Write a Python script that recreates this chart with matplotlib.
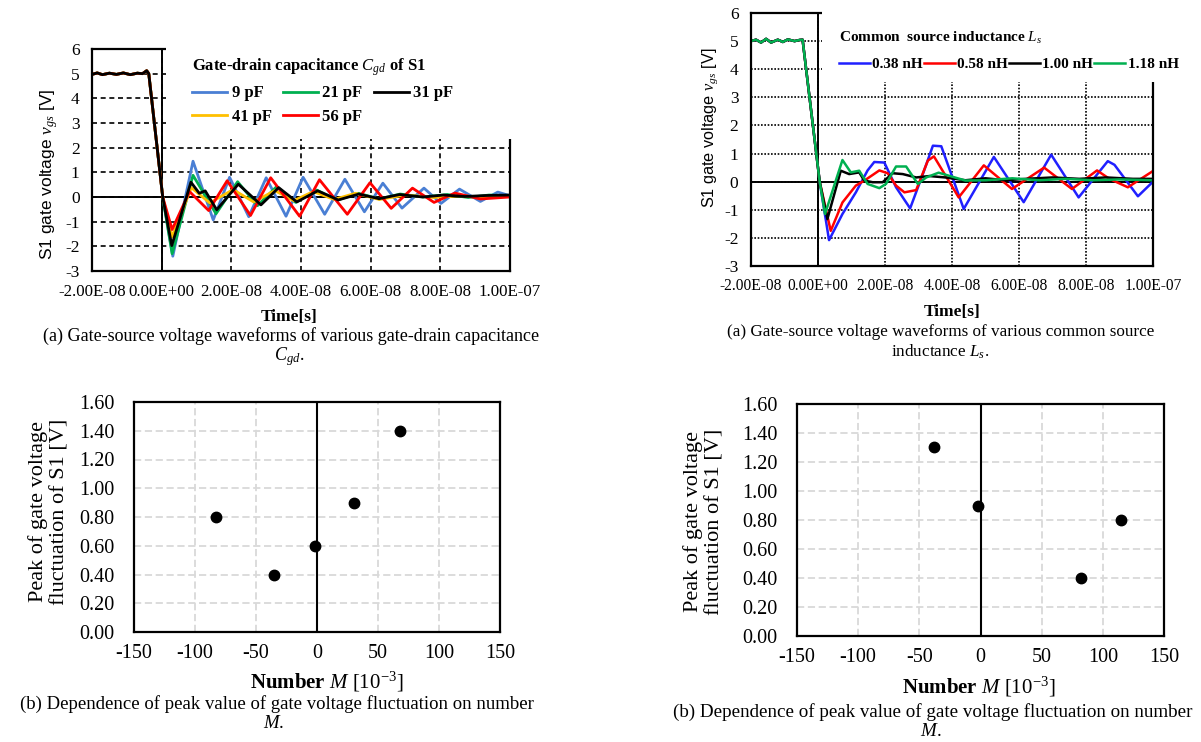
import matplotlib
matplotlib.use("Agg")
import matplotlib.pyplot as plt
from matplotlib.patches import Rectangle

plt.rcParams["font.family"] = ["Liberation Serif", "DejaVu Serif"]
plt.rcParams["mathtext.fontset"] = "custom"
plt.rcParams["mathtext.rm"] = "Liberation Serif"
plt.rcParams["mathtext.it"] = "Liberation Serif:italic"
plt.rcParams["mathtext.bf"] = "Liberation Serif:bold"
plt.rcParams["axes.unicode_minus"] = False

W, H = 1201, 742

# ---- (a) left: gate-drain capacitance, time in ns ----
PRE_T = [-20, -18.5, -17, -15, -13, -11, -9, -7, -5.5, -4.3, -3.7]
PRE_V1 = [4.97, 5.03, 4.96, 5.02, 4.97, 5.03, 4.96, 5.02, 5.0, 5.12, 5.0]

T_9 = [0.3, 3.2, 9.0, 14.8, 19.5, 25.0, 30.0, 35.7, 40.6, 46.8, 52.6, 58.2, 63.5, 69.0, 75.3, 80.2, 85.5, 91.5, 96.5, 100]
V_9 = [0.0, -2.4, 1.45, -0.93, 0.8, -0.8, 0.78, -0.78, 0.8, -0.7, 0.72, -0.6, 0.56, -0.45, 0.36, -0.26, 0.32, -0.18, 0.2, 0.05]
T_21 = [0.3, 3.0, 9.0, 15.6, 21.8, 27.5, 33.0, 38.5, 44.5, 50.5, 56.5, 62.5, 68.5, 75, 82, 88, 94, 100]
V_21 = [0.0, -2.3, 0.88, -0.68, 0.62, -0.35, 0.42, -0.22, 0.28, -0.12, 0.15, -0.08, 0.12, 0.0, 0.1, -0.02, 0.08, 0.05]
T_31 = [0.3, 2.9, 8.4, 10.8, 12.5, 15.8, 22.0, 28.5, 33.6, 38.8, 44.8, 50.7, 56.6, 62.4, 68.3, 75.0, 81, 87, 93, 100]
V_31 = [0.0, -1.97, 0.6, 0.15, 0.25, -0.52, 0.52, -0.32, 0.38, -0.2, 0.25, -0.12, 0.12, -0.07, 0.1, 0.0, 0.08, 0.02, 0.06, 0.08]
T_41 = [0.3, 3.0, 8.5, 13.8, 20.5, 26.4, 32.5, 37.9, 43.5, 49.5, 55.6, 62.5, 70, 78, 86, 93, 100]
V_41 = [0.0, -1.62, 0.38, -0.24, 0.3, -0.2, 0.26, -0.15, 0.22, -0.1, 0.15, -0.1, 0.08, -0.02, 0.05, -0.02, 0.03]
T_56 = [0.3, 3.0, 8.0, 13.5, 18.8, 25.5, 31.3, 39.6, 45.3, 53.3, 59.8, 65.9, 72.0, 78.2, 84.2, 91.5, 100]
V_56 = [0.0, -1.32, 0.22, -0.55, 0.66, -0.75, 0.78, -0.78, 0.7, -0.7, 0.58, -0.46, 0.36, -0.22, 0.16, -0.08, 0.0]

# ---- (a) right: common source inductance ----
PRE_T2 = [-20, -18.5, -17, -15.5, -14, -12, -10.5, -9, -7, -5.5, -4.6]
PRE_V2 = [5.0, 5.05, 4.95, 5.08, 4.95, 5.05, 4.97, 5.06, 5.0, 5.04, 5.05]

T_038 = [0.5, 3.3, 7.3, 11.3, 14.8, 16.8, 19.8, 23.3, 27.5, 31.3, 34.3, 36.8, 43.5, 52.5, 61.4, 69.6, 77.8, 86.5, 88.5, 95.5, 100]
V_038 = [0.0, -2.08, -1.15, -0.38, 0.4, 0.7, 0.68, -0.2, -0.95, 0.27, 1.28, 1.26, -0.97, 0.88, -0.73, 0.96, -0.56, 0.73, 0.6, -0.52, 0.0]
T_058 = [0.5, 3.8, 7.3, 11.3, 14, 18.3, 20.8, 23.3, 25.8, 29.3, 32.8, 34.6, 42.0, 49.5, 57.9, 67.5, 75.8, 83.3, 87, 92.5, 100]
V_058 = [0.0, -1.75, -0.74, -0.14, 0.05, 0.4, 0.3, -0.14, -0.38, -0.3, 0.75, 0.9, -0.56, 0.58, -0.26, 0.5, -0.26, 0.4, 0.1, -0.2, 0.38]
T_100 = [0.5, 2.8, 6.8, 9.3, 12.3, 13.8, 16.3, 19.3, 22.3, 25.3, 29.3, 33.3, 38, 44, 50, 56, 62, 70, 78, 86, 94, 100]
V_100 = [0.0, -1.33, 0.39, 0.27, 0.33, 0.04, -0.02, -0.02, 0.3, 0.27, 0.15, 0.2, 0.15, 0.05, 0.12, 0.05, 0.1, 0.15, 0.1, 0.15, 0.1, 0.1]
T_118 = [0.5, 2.1, 7.3, 9.8, 12.3, 14.8, 18.3, 20.3, 23.3, 26.3, 29.8, 32.3, 36, 44, 50, 58, 66, 74, 82, 90, 100]
V_118 = [0.0, -1.15, 0.77, 0.33, 0.39, -0.08, -0.23, -0.08, 0.54, 0.54, -0.08, 0.15, 0.32, 0.04, 0.05, 0.12, 0.05, 0.1, 0.05, 0.08, 0.05]

X_TICKS = [-2e-08, 0.0, 2e-08, 4e-08, 6e-08, 8e-08, 1e-07]
Y_TICKS = [-3, -2, -1, 0, 1, 2, 3, 4, 5, 6]

# ---- (b) peak value vs number M ----
M_CGD = [-83, -35, -2, 30, 68]
PEAK_CGD = [0.80, 0.40, 0.60, 0.90, 1.40]
M_LS = [-38, -2, 82, 115]
PEAK_LS = [1.30, 0.90, 0.40, 0.80]
M_TICKS = [-150, -100, -50, 0, 50, 100, 150]
P_TICKS = [0.0, 0.2, 0.4, 0.6, 0.8, 1.0, 1.2, 1.4, 1.6]

fig = plt.figure(figsize=(W / 100, H / 100), dpi=100)


def px_axes(l, t, r, b):
    return fig.add_axes([l / W, 1 - b / H, (r - l) / W, (b - t) / H])


def put(x, y, s, **kw):
    # text placed by pixel position from the top-left corner
    fig.text(x / W, 1 - y / H, s, ha="center", va="center", **kw)


def ns(ts):
    return [t * 1e-9 for t in ts]


def wave_axes(ax, grid_ls, cover_v, xsize):
    ax.set_xlim(-2e-8, 1e-7)
    ax.set_ylim(-3, 6)
    ax.set_xticks(X_TICKS)
    ax.set_xticklabels([f"{x:.2E}" for x in X_TICKS])
    ax.set_yticks(Y_TICKS)
    ax.tick_params(length=0, pad=9)
    ax.tick_params(axis="x", labelsize=xsize)
    ax.tick_params(axis="y", labelsize=12.5)
    ax.grid(True, color="k", linestyle=grid_ls, linewidth=1.2, zorder=1)
    ax.axhline(0, color="k", lw=1.4, zorder=1.8)
    ax.axvline(0, color="k", lw=1.4, zorder=1.8)
    for s in ax.spines.values():
        s.set_linewidth(1.6)
    # white area behind the legend hides grid and frame
    x0 = (1.2 + 20) / 120
    y0 = (cover_v + 3) / 9
    ax.add_patch(Rectangle((x0, y0), 1.03 - x0, 1.03 - y0, transform=ax.transAxes,
                           facecolor="white", edgecolor="none", zorder=2.6, clip_on=False))


# ---------------- top-left ----------------
ax1 = px_axes(92, 49, 510, 271)
wave_axes(ax1, (0, (3, 2.2)), 2.35, 12.2)
lw1 = 2.0
l9, = ax1.plot(ns(PRE_T + T_9), PRE_V1 + V_9, color="#4a7fd4", lw=lw1)
l21, = ax1.plot(ns(PRE_T + T_21), PRE_V1 + V_21, color="#00b050", lw=lw1)
l41, = ax1.plot(ns(PRE_T + T_41), PRE_V1 + V_41, color="#ffc000", lw=lw1)
l56, = ax1.plot(ns(PRE_T + T_56), PRE_V1 + V_56, color="#ff0000", lw=lw1)
l31, = ax1.plot(ns(PRE_T + T_31), PRE_V1 + V_31, color="#000000", lw=lw1)
ax1.legend([l9, l41, l21, l56, l31], ["9 pF", "41 pF", "21 pF", "56 pF", "31 pF"],
           ncol=3, loc="upper left", bbox_to_anchor=(184 / W, 1 - 48 / H),
           bbox_transform=fig.transFigure, frameon=False, borderpad=0,
           handlelength=2.1, handletextpad=0.25, columnspacing=0.7, labelspacing=0.45,
           prop=dict(weight="bold", size=12), alignment="left",
           title=r"Gate-drain capacitance $C_{gd}$ of S1",
           title_fontproperties=dict(weight="bold", size=12))
put(49, 174, r"S1 gate voltage $v_{gs}$ [V]", rotation=90, fontsize=12.5,
    family=["Liberation Sans"])
put(289, 317, "Time[s]", fontsize=12.5, weight="bold")
put(291, 336, "(a) Gate-source voltage waveforms of various gate-drain capacitance", fontsize=13)
put(289, 357, r"$C_{gd}$.", fontsize=13)

# ---------------- top-right ----------------
ax2 = px_axes(751, 13, 1153, 266)
wave_axes(ax2, (0, (1, 1)), 3.55, 11.2)
lw2 = 1.8
b038, = ax2.plot(ns(PRE_T2 + T_038), PRE_V2 + V_038, color="#2020ff", lw=lw2)
r058, = ax2.plot(ns(PRE_T2 + T_058), PRE_V2 + V_058, color="#ff0000", lw=lw2)
k100, = ax2.plot(ns(PRE_T2 + T_100), PRE_V2 + V_100, color="#000000", lw=lw2)
g118, = ax2.plot(ns(PRE_T2 + T_118), PRE_V2 + V_118, color="#00b050", lw=lw2)
ax2.legend([b038, r058, k100, g118], ["0.38 nH", "0.58 nH", "1.00 nH", "1.18 nH"],
           ncol=4, loc="upper left", bbox_to_anchor=(831 / W, 1 - 22 / H),
           bbox_transform=fig.transFigure, frameon=False, borderpad=0,
           handlelength=2.05, handletextpad=0.15, columnspacing=0.05, labelspacing=0.75,
           prop=dict(weight="bold", size=11), alignment="left",
           title=r"Common  source inductance $L_s$",
           title_fontproperties=dict(weight="bold", size=11))
put(710, 128, r"S1 gate voltage $v_{gs}$ [V]", rotation=90, fontsize=11.7,
    family=["Liberation Sans"])
put(952, 312, "Time[s]", fontsize=12.5, weight="bold")
put(941, 332, "(a) Gate-source voltage waveforms of various common source", fontsize=12.3)
put(940, 352, r"inductance $L_s$.", fontsize=12.3)


# ---------------- bottom panels ----------------
def peak_axes(ax, m, p):
    ax.set_xlim(-150, 150)
    ax.set_ylim(0, 1.6)
    ax.set_xticks(M_TICKS)
    ax.set_yticks(P_TICKS)
    ax.set_yticklabels([f"{v:.2f}" for v in P_TICKS])
    ax.tick_params(length=0, labelsize=14.5)
    ax.tick_params(axis="x", pad=9)
    ax.tick_params(axis="y", pad=14)
    ax.grid(True, color="#d9d9d9", linestyle=(0, (4, 2)), linewidth=1.3)
    ax.set_axisbelow(True)
    ax.axvline(0, color="k", lw=1.5, zorder=1.8)
    for s in ax.spines.values():
        s.set_linewidth(1.6)
    ax.plot(m, p, "o", color="k", ms=7.5, ls="none", zorder=3)


ax3 = px_axes(134, 402, 500, 632)
peak_axes(ax3, M_CGD, PEAK_CGD)
put(49, 512, "Peak of gate voltage\nfluctuation of S1 [V]", rotation=90, fontsize=16,
    linespacing=1.15)
put(327, 682, r"Number $M$ $[10^{-3}]$", fontsize=15, weight="bold")
put(277, 704, "(b) Dependence of peak value of gate voltage fluctuation on number", fontsize=13.5)
put(274, 724, r"$M$.", fontsize=13.5)

ax4 = px_axes(797, 404, 1164, 636)
peak_axes(ax4, M_LS, PEAK_LS)
put(704, 522, "Peak of gate voltage\nfluctuation of S1 [V]", rotation=90, fontsize=16,
    linespacing=1.15)
put(979, 687, r"Number $M$ $[10^{-3}]$", fontsize=15, weight="bold")
put(933, 712, "(b) Dependence of peak value of gate voltage fluctuation on number", fontsize=13.7)
put(931, 731, r"$M$.", fontsize=13.7)

fig.savefig("out.png", dpi=100)
